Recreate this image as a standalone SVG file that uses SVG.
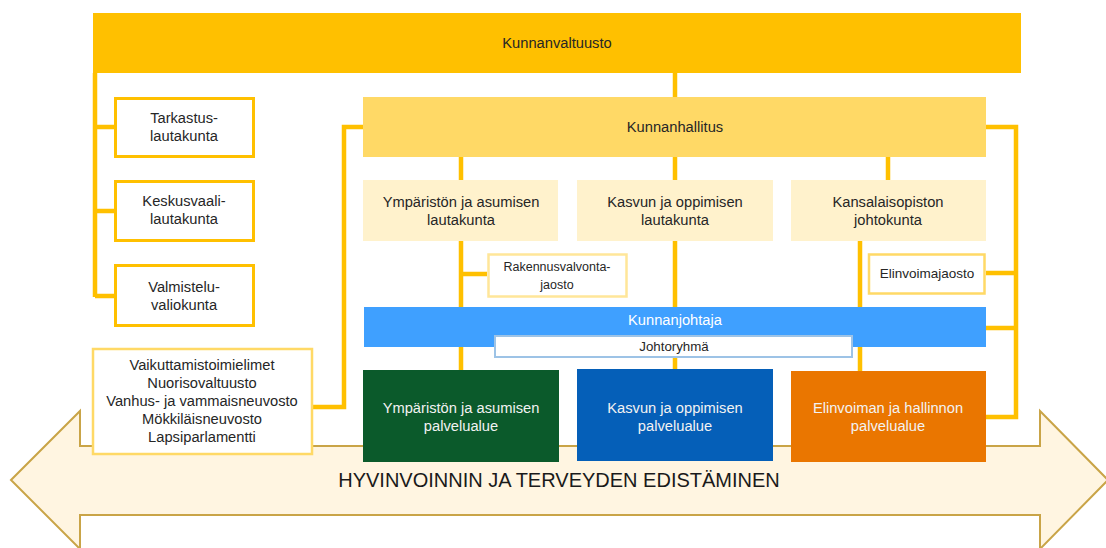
<svg xmlns="http://www.w3.org/2000/svg" width="1106" height="548" viewBox="0 0 1106 548">
<style>
text{font-family:"Liberation Sans",Arial,sans-serif;font-size:14.7px;fill:#262626;text-anchor:middle}
.sm{font-size:12.5px}
.w{fill:#F2F2F2}
.big{font-size:20px;fill:#1a1a1a}
.con{stroke:#FFC000;stroke-width:4.5;fill:none}
.lk{fill:#FFF2CC}
.ob{fill:#fff;stroke:#FFC000;stroke-width:3}
</style>
<rect width="1106" height="548" fill="#fff"/>
<g id="arrow">
<polygon points="11,480 80,411 80,446 1040,446 1040,411 1108,480 1040,549 1040,515 80,515 80,549" fill="#FFF5E1" stroke="#C9A447" stroke-width="2"/>
<text class="big" x="559" y="487">HYVINVOINNIN JA TERVEYDEN EDISTÄMINEN</text>
</g>
<g id="connectors">
<path class="con" d="M95,73 V297 M95,127 H114 M95,211 H114 M95,296 H114"/>
<path class="con" d="M313,407 H344 V127 H363"/>
<path class="con" d="M675,73 V97"/>
<path class="con" d="M986,127 H1016 V417 H986 M986,273 H1016 M986,328 H1016"/>
<path class="con" d="M461,157 V180 M675,157 V180 M888,157 V180"/>
<path class="con" d="M461,241 V370 M461,274 H487 M675,241 V370 M860,241 V371"/>
</g>
<g id="kunnanvaltuusto">
<rect x="93" y="13" width="928" height="60" fill="#FFC000"/>
<text x="557" y="48">Kunnanvaltuusto</text>
</g>
<g id="tarkastus">
<rect class="ob" x="115.5" y="98.5" width="138" height="58"/>
<text x="184" y="123">Tarkastus-</text><text x="184" y="141">lautakunta</text>
</g>
<g id="keskusvaali">
<rect class="ob" x="115.5" y="181.5" width="138" height="59"/>
<text x="184" y="206">Keskusvaali-</text><text x="184" y="224">lautakunta</text>
</g>
<g id="valmistelu">
<rect class="ob" x="115.5" y="265.5" width="138" height="60"/>
<text x="184" y="292">Valmistelu-</text><text x="184" y="310">valiokunta</text>
</g>
<g id="vaikuttamis">
<rect x="93" y="349" width="219" height="105" fill="#fff" stroke="#FFD966" stroke-width="2.5"/>
<text x="202" y="370">Vaikuttamistoimielimet</text>
<text x="202" y="388">Nuorisovaltuusto</text>
<text x="202" y="406">Vanhus- ja vammaisneuvosto</text>
<text x="202" y="424">Mökkiläisneuvosto</text>
<text x="202" y="442">Lapsiparlamentti</text>
</g>
<g id="kunnanhallitus">
<rect x="363" y="97" width="623" height="60" fill="#FFD966"/>
<text x="675" y="132">Kunnanhallitus</text>
</g>
<g id="ymp-lautakunta">
<rect class="lk" x="363" y="180" width="195" height="61"/>
<text x="461" y="207">Ympäristön ja asumisen</text><text x="461" y="225">lautakunta</text>
</g>
<g id="kasvu-lautakunta">
<rect class="lk" x="577" y="180" width="196" height="61"/>
<text x="675" y="207">Kasvun ja oppimisen</text><text x="675" y="225">lautakunta</text>
</g>
<g id="kansalaisopisto">
<rect class="lk" x="791" y="180" width="195" height="61"/>
<text x="888" y="207">Kansalaisopiston</text><text x="888" y="225">johtokunta</text>
</g>
<g id="rakennusvalvonta">
<rect x="488.5" y="254.5" width="138" height="42" fill="#fff" stroke="#FFE699" stroke-width="2.5"/>
<text class="sm" x="557" y="271">Rakennusvalvonta-</text><text class="sm" x="557" y="289">jaosto</text>
</g>
<g id="elinvoimajaosto">
<rect x="869" y="254.5" width="115.5" height="39" fill="#fff" stroke="#FFD966" stroke-width="2.5"/>
<text x="927" y="278" style="font-size:13.5px">Elinvoimajaosto</text>
</g>
<g id="kunnanjohtaja">
<rect x="364" y="307" width="622" height="40" fill="#3FA0FF"/>
<text x="675" y="325" style="fill:#fff">Kunnanjohtaja</text>
</g>
<g id="johtoryhma">
<rect x="495" y="336" width="357" height="21" fill="#fff" stroke="#9DC3E6" stroke-width="2"/>
<text x="674" y="351" style="font-size:13.3px">Johtoryhmä</text>
</g>
<g id="ymp-palvelualue">
<rect x="363" y="370" width="196" height="92" fill="#0B5A2B"/>
<text class="w" x="461" y="413">Ympäristön ja asumisen</text><text class="w" x="461" y="431">palvelualue</text>
</g>
<g id="kasvu-palvelualue">
<rect x="577" y="369" width="196" height="92" fill="#055FB8"/>
<text class="w" x="675" y="413">Kasvun ja oppimisen</text><text class="w" x="675" y="431">palvelualue</text>
</g>
<g id="elinvoima-palvelualue">
<rect x="791" y="371" width="195" height="91" fill="#EA7600"/>
<text class="w" x="888" y="413">Elinvoiman ja hallinnon</text><text class="w" x="888" y="431">palvelualue</text>
</g>
</svg>
